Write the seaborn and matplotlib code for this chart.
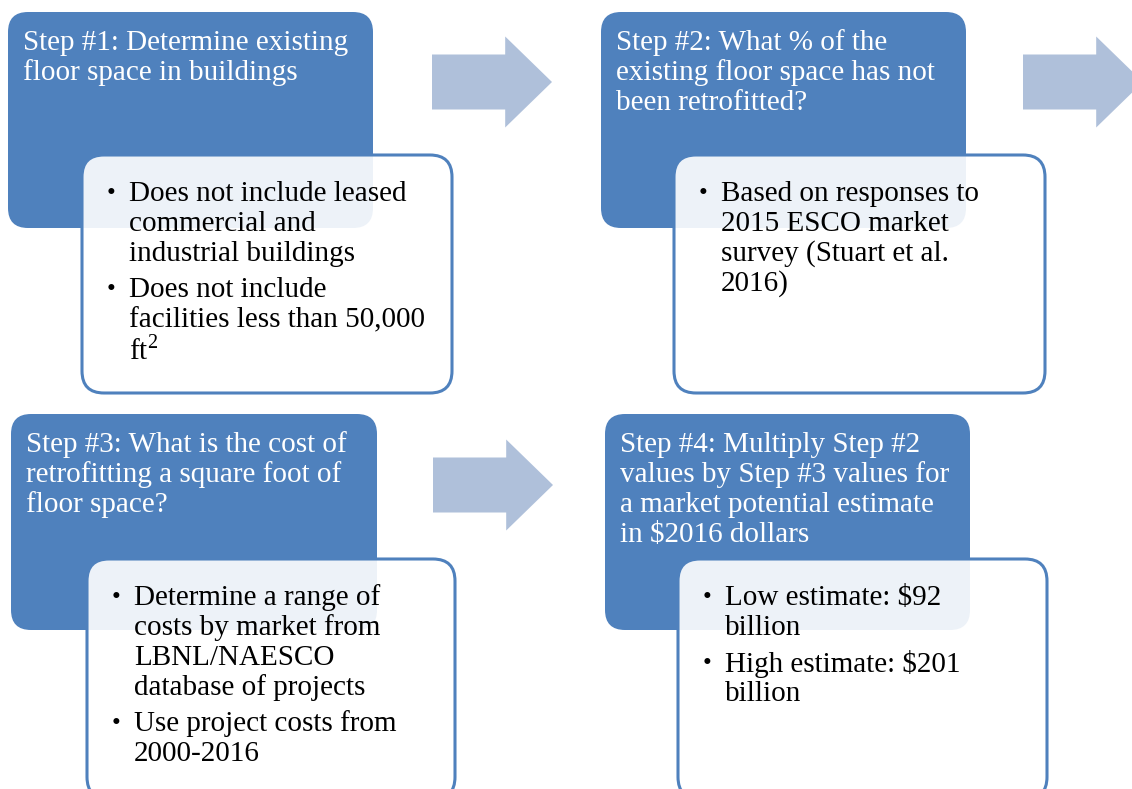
import matplotlib
matplotlib.use("Agg")
import matplotlib.pyplot as plt
from matplotlib.patches import FancyBboxPatch, Polygon
import seaborn as sns

# Text content of the four steps
step_titles = [
    ["Step #1: Determine existing", "floor space in buildings"],
    ["Step #2: What % of the", "existing floor space has not", "been retrofitted?"],
    ["Step #3: What is the cost of", "retrofitting a square foot of", "floor space?"],
    ["Step #4: Multiply Step #2", "values by Step #3 values for",
     "a market potential estimate", "in \\$2016 dollars"],
]
step_bullets = [
    [["Does not include leased", "commercial and", "industrial buildings"],
     ["Does not include", "facilities less than 50,000", "ft$^{\\mathregular{2}}$"]],
    [["Based on responses to", "2015 ESCO market", "survey (Stuart et al.", "2016)"]],
    [["Determine a range of", "costs by market from", "LBNL/NAESCO", "database of projects"],
     ["Use project costs from", "2000-2016"]],
    [["Low estimate: \\$92", "billion"],
     ["High estimate: \\$201", "billion"]],
]

# Layout (pixels, y measured from the top)
W, H = 1132, 789
blue_boxes = [(8, 12, 365, 216), (601, 12, 365, 216), (11, 414, 366, 216), (605, 414, 365, 216)]
white_boxes = [(82, 155, 370, 238), (674, 155, 371, 238), (87, 559, 368, 240), (678, 559, 369, 240)]
arrows = [(432, 82, 552), (1023, 82, 1143), (433, 485, 553)]  # x0, y center, tip x

BLUE = "#4F81BD"
ARROW = "#AFC0DA"
FS = 21
LINE = 30

sns.set_theme(style="white")
plt.rcParams["font.family"] = ["Liberation Serif", "DejaVu Serif"]
plt.rcParams["mathtext.fontset"] = "custom"
plt.rcParams["mathtext.rm"] = "Liberation Serif"

fig = plt.figure(figsize=(W / 100, H / 100), dpi=100)
ax = fig.add_axes([0, 0, 1, 1])
ax.set_xlim(0, W)
ax.set_ylim(H, 0)
ax.axis("off")

for x0, yc, tip in arrows:
    length = tip - x0
    body_half, head_half, head_len = 27.5, 45.5, 0.39 * length
    pts = [(x0, yc - body_half), (tip - head_len, yc - body_half), (tip - head_len, yc - head_half),
           (tip, yc), (tip - head_len, yc + head_half), (tip - head_len, yc + body_half),
           (x0, yc + body_half)]
    ax.add_patch(Polygon(pts, closed=True, facecolor=ARROW, edgecolor="none", zorder=1))

for i, ((bx, by, bw, bh), (wx, wy, ww, wh)) in enumerate(zip(blue_boxes, white_boxes)):
    ax.add_patch(FancyBboxPatch((bx, by), bw, bh, boxstyle="round,pad=0,rounding_size=20",
                                facecolor=BLUE, edgecolor="none", zorder=2))
    for j, line in enumerate(step_titles[i]):
        ax.text(bx + 15, by + 31 + j * LINE, line, color="white", fontsize=FS,
                va="center", ha="left", zorder=3)

    ax.add_patch(FancyBboxPatch((wx, wy), ww, wh, boxstyle="round,pad=0,rounding_size=22",
                                facecolor=(1, 1, 1, 0.9), edgecolor=BLUE, linewidth=2.2, zorder=4))
    y = wy + 39
    for item in step_bullets[i]:
        ax.text(wx + 25, y, "•", color="black", fontsize=FS - 3, va="center", ha="left", zorder=5)
        for line in item:
            ax.text(wx + 47, y, line, color="black", fontsize=FS, va="center", ha="left", zorder=5)
            y += LINE
        y += 6

fig.savefig("out.png", dpi=100, facecolor="white")
